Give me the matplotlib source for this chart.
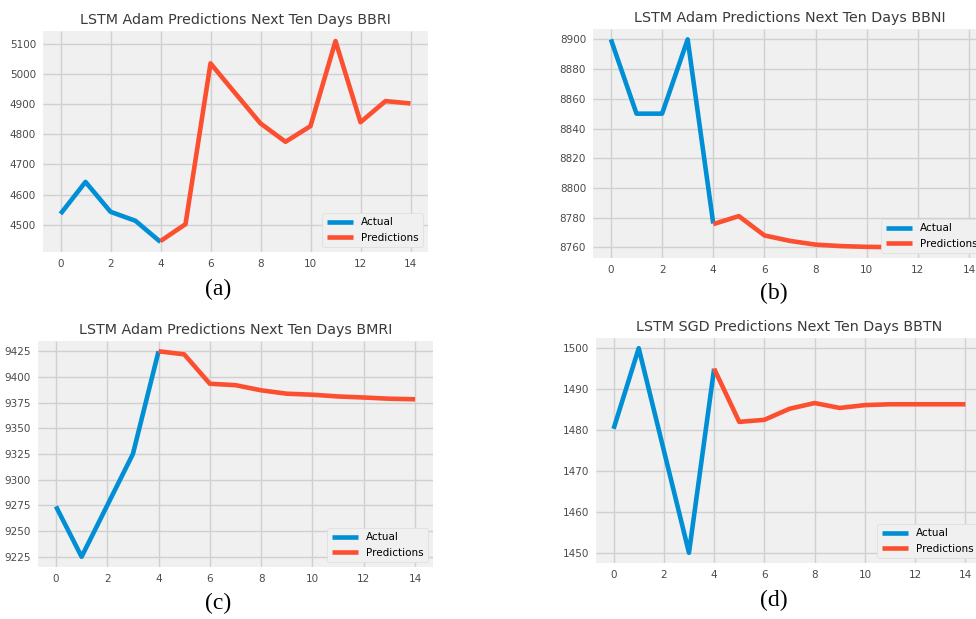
import matplotlib
matplotlib.use("Agg")
import matplotlib.pyplot as plt
from matplotlib.ticker import MultipleLocator

plt.style.use("fivethirtyeight")
plt.rcParams["font.family"] = ["DejaVu Sans"]

# days on the x axis
actual_days = [0, 1, 2, 3, 4]
pred_days = [4, 5, 6, 7, 8, 9, 10, 11, 12, 13, 14]

# BBRI (Adam)
bbri_actual = [4536, 4642, 4543, 4513, 4443]
bbri_pred = [4446, 4502, 5035, 4935, 4836, 4775, 4827, 5109, 4840, 4910, 4902]

# BBNI (Adam)
bbni_actual = [8900, 8850, 8850, 8900, 8776]
bbni_pred = [8775.6, 8781, 8768, 8764.3, 8761.8, 8760.8, 8760.3, 8760.1, 8760, 8759.9, 8759.8]

# BMRI (Adam)
bmri_actual = [9274, 9225, 9275, 9325, 9425]
bmri_pred = [9425, 9422, 9393.4, 9392, 9387, 9383.7, 9382.7, 9381, 9380, 9378.8, 9378.3]

# BBTN (SGD)
bbtn_actual = [1480.3, 1500, 1475, 1450, 1495]
bbtn_pred = [1495, 1482, 1482.5, 1485.2, 1486.6, 1485.4, 1486.1, 1486.3, 1486.3, 1486.3, 1486.3]

titles = ["LSTM Adam Predictions Next Ten Days BBRI",
          "LSTM Adam Predictions Next Ten Days BBNI",
          "LSTM Adam Predictions Next Ten Days BMRI",
          "LSTM SGD Predictions Next Ten Days BBTN"]
captions = ["(a)", "(b)", "(c)", "(d)"]
y_steps = [100, 20, 25, 10]

W, H = 976, 619
fig = plt.figure(figsize=(W / 100, H / 100), dpi=100)
fig.patch.set_facecolor("white")

# axes boxes in pixels: left, top, right, bottom
boxes = [(43, 31, 428, 252), (593, 29, 987, 258),
         (38, 341, 433, 567), (596, 338, 983, 563)]
cap_pos = [(218, 289), (774, 293), (218, 603), (774, 600)]

series = [(bbri_actual, bbri_pred), (bbni_actual, bbni_pred),
          (bmri_actual, bmri_pred), (bbtn_actual, bbtn_pred)]

for i, (act, pred) in enumerate(series):
    l, t, r, b = boxes[i]
    ax = fig.add_axes([l / W, 1 - b / H, (r - l) / W, (b - t) / H])
    ax.set_facecolor("#f0f0f0")
    ax.plot(actual_days, act, color="#008fd5", lw=3.3, label="Actual")
    ax.plot(pred_days, pred, color="#fc4f30", lw=3.3, label="Predictions")
    ax.set_title(titles[i], fontsize=10.3, color="#3a3a3a", pad=5)
    ax.xaxis.set_major_locator(MultipleLocator(2))
    ax.yaxis.set_major_locator(MultipleLocator(y_steps[i]))
    ax.tick_params(labelsize=7.5, colors="#4a4a4a", length=0, pad=5)
    ax.grid(True, color="#d0d0d0", lw=1)
    for s in ax.spines.values():
        s.set_visible(False)
    ax.legend(loc="lower right", fontsize=7.5, frameon=True,
              facecolor="#f0f0f0", edgecolor="#dddddd", framealpha=1,
              handlelength=2.5)
    cx, cy = cap_pos[i]
    fig.text(cx / W, 1 - cy / H, captions[i], ha="center", va="center",
             fontsize=17, family=["Liberation Serif", "DejaVu Serif"], color="black")

fig.savefig("out.png", dpi=100, facecolor="white")
